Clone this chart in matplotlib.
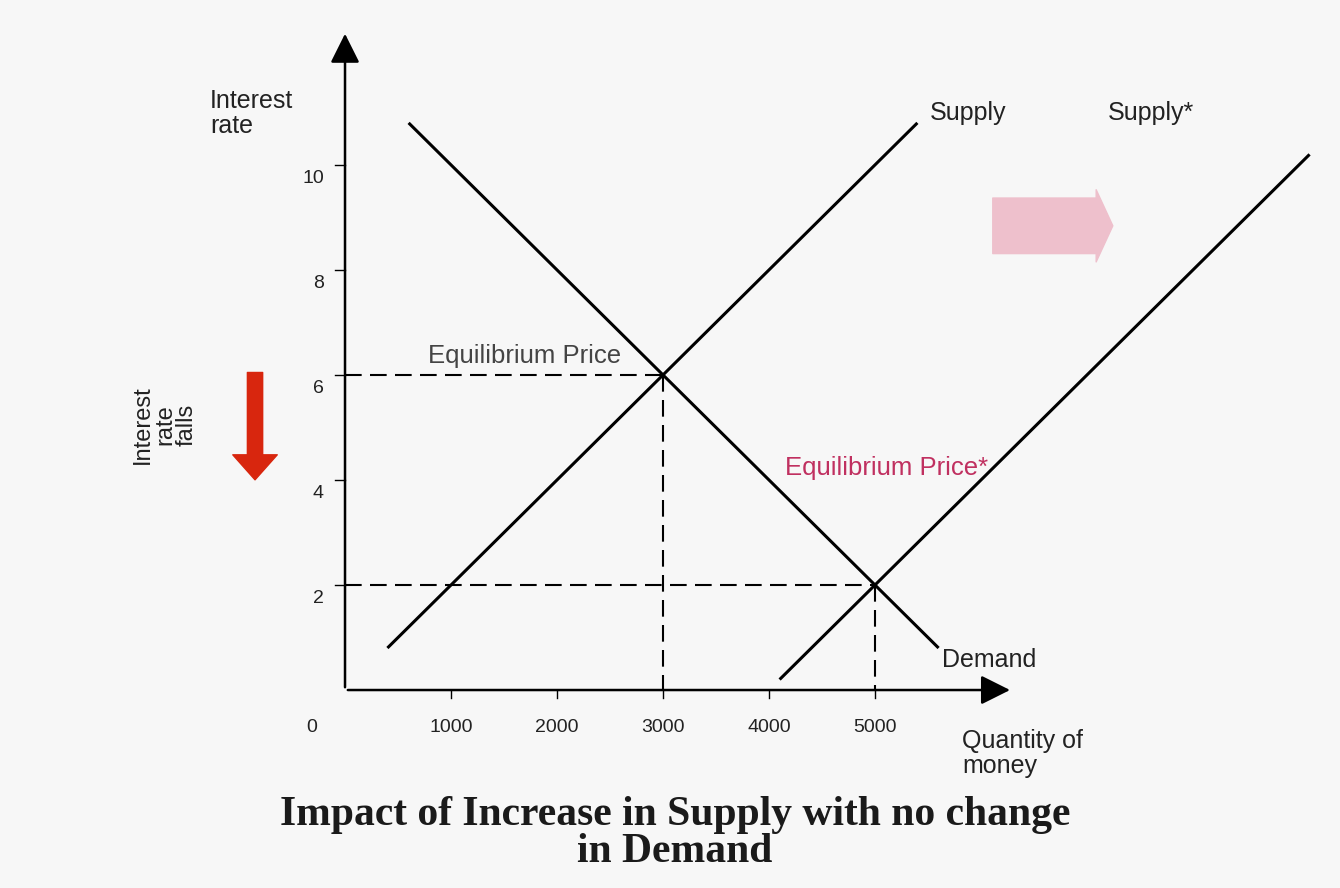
import numpy as np
import matplotlib.pyplot as plt

# data: straight lines (quantity of money, interest rate)
supply_x = [400, 5400]
supply_y = [0.8, 10.8]
supply2_x = [4100, 9100]
supply2_y = [0.2, 10.2]
demand_x = [600, 5600]
demand_y = [10.8, 0.8]

equilibria = [(3000, 6), (5000, 2)]
x_ticks = [1000, 2000, 3000, 4000, 5000]
y_ticks = [2, 4, 6, 8, 10]

fig = plt.figure(figsize=(13.4, 8.88), dpi=100)
fig.patch.set_facecolor('#f7f7f7')
ax = fig.add_axes([0, 0, 1, 1])
ax.set_facecolor('#f7f7f7')
ax.set_xlim(-3255, 9387)
ax.set_ylim(-3.77, 13.14)
ax.axis('off')

sans = 'Liberation Sans'
txt = '#222222'

# axes with arrow heads
ax.annotate('', xy=(0, 12.55), xytext=(0, 0),
            arrowprops=dict(arrowstyle='-|>,head_length=0.9,head_width=0.45',
                            color='black', lw=1.8, mutation_scale=20))
ax.annotate('', xy=(6300, 0), xytext=(0, 0),
            arrowprops=dict(arrowstyle='-|>,head_length=0.9,head_width=0.45',
                            color='black', lw=1.8, mutation_scale=20))

# ticks
for t in y_ticks:
    ax.plot([-90, 0], [t, t], color='black', lw=1)
    ax.text(-200, t - 0.25, str(t), ha='right', va='center', fontsize=14,
            family=sans, color=txt)
for t in x_ticks:
    ax.plot([t, t], [0, -0.15], color='black', lw=1)
    ax.text(t, -0.72, str(t), ha='center', va='center', fontsize=14,
            family=sans, color=txt)
ax.text(-311, -0.72, '0', ha='center', va='center', fontsize=14,
        family=sans, color=txt)

# curves
ax.plot(supply_x, supply_y, color='black', lw=2.2, solid_capstyle='butt')
ax.plot(supply2_x, supply2_y, color='black', lw=2.2, solid_capstyle='butt')
ax.plot(demand_x, demand_y, color='black', lw=2.2, solid_capstyle='butt')

# dashed guide lines to equilibria
for ex, ey in equilibria:
    ax.plot([0, ex], [ey, ey], color='black', lw=1.5, ls=(0, (8, 4)))
    ax.plot([ex, ex], [ey, 0], color='black', lw=1.5, ls=(0, (8, 4)))

# labels
ax.text(-1274, 11.45, 'Interest\nrate', ha='left', va='top', fontsize=18,
        family=sans, color=txt, linespacing=1.05)
ax.text(5519, 10.99, 'Supply', ha='left', va='center', fontsize=18,
        family=sans, color=txt)
ax.text(7198, 10.99, 'Supply*', ha='left', va='center', fontsize=18,
        family=sans, color=txt)
ax.text(5632, 0.57, 'Demand', ha='left', va='center', fontsize=18,
        family=sans, color=txt)
ax.text(5821, -0.75, 'Quantity of\nmoney', ha='left', va='top', fontsize=18,
        family=sans, color=txt, linespacing=1.05)
ax.text(783, 6.36, 'Equilibrium Price', ha='left', va='center', fontsize=18.5,
        family=sans, color='#444444')
ax.text(4151, 4.23, 'Equilibrium Price*', ha='left', va='center', fontsize=18.5,
        family=sans, color='#c03060')
ax.text(-1698, 5.05, 'Interest\nrate\nfalls', ha='center', va='center',
        rotation=90, fontsize=17, family=sans, color=txt,
        linespacing=1.0)

# red arrow: interest rate falls
ax.annotate('', xy=(-849, 3.95), xytext=(-849, 6.1),
            arrowprops=dict(arrowstyle='simple,head_length=0.9,head_width=1.6,tail_width=0.55',
                            mutation_scale=20, color='#d8260e'))

# pink arrow: supply shifts right
ax.annotate('', xy=(7270, 8.84), xytext=(6085, 8.84),
            arrowprops=dict(arrowstyle='simple,head_length=0.6,head_width=2.6,tail_width=2.0',
                            mutation_scale=20, color='#eec0cc'))

title_font = dict(ha='center', va='center', fontsize=30, family='Liberation Serif',
                  weight='bold', color='#1a1a1a')
ax.text(3113, -2.38, 'Impact of Increase in Supply with no change', **title_font)
ax.text(3113, -3.09, 'in Demand', **title_font)

fig.savefig('out.png', dpi=100, facecolor=fig.get_facecolor())
